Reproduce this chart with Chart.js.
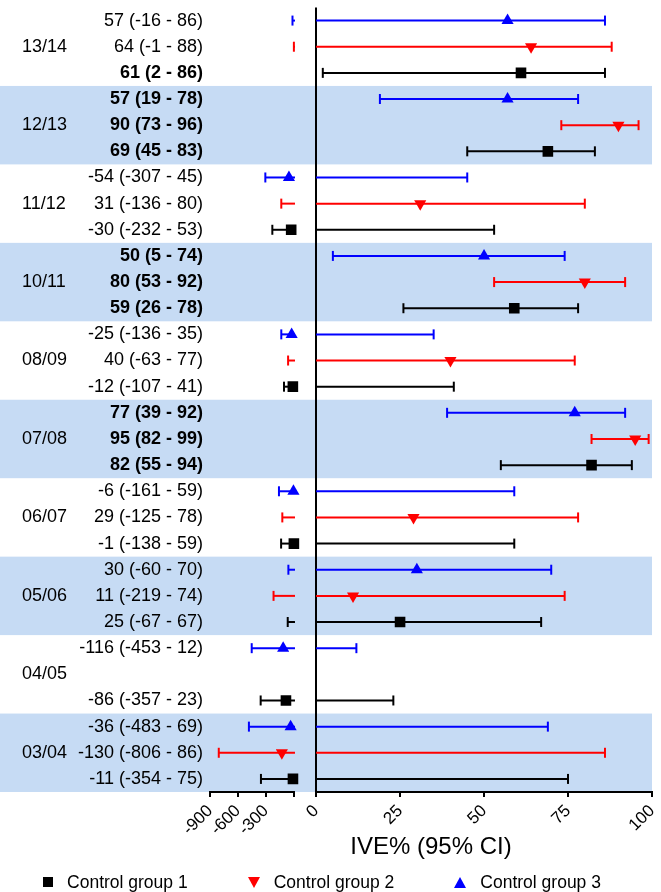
<!DOCTYPE html>
<html>
<head>
<meta charset="utf-8">
<title>IVE% by season</title>
<script src="https://cdn.jsdelivr.net/npm/chart.js@4.4.1/dist/chart.umd.min.js"></script>
<style>
  body { margin:0; background:#fff; font-family: Arial, "Liberation Sans", sans-serif; }
  .wrap { position:relative; width:661px; height:892px; }
  #legend { position:absolute; left:0; top:872px; width:644px; height:20px; display:flex; justify-content:center; align-items:center; gap:60px; font-size:17.5px; color:#000; }
  .lg-item { display:flex; align-items:center; white-space:nowrap; }
  .lg-mark { margin-right:14px; width:0; height:0; }
  .lg-rect { width:10px; height:10px; }
</style>
</head>
<body>
<div class="wrap">
  <canvas id="chartIVE" width="661" height="892"></canvas>
  <div id="legend"></div>
</div>
<script>
// seasons top -> bottom
const seasons = ['13/14', '12/13', '11/12', '10/11', '08/09', '07/08', '06/07', '05/06', '04/05', '03/04'];

// Control group 1 (black squares)
const g1Est  = [61, 69, -30, 59, -12, 82, -1, 25, -86, -11];
const g1Low  = [2, 45, -232, 26, -107, 55, -138, -67, -357, -354];
const g1High = [86, 83, 53, 78, 41, 94, 59, 67, 23, 75];

// Control group 2 (red triangles down)
const g2Est  = [64, 90, 31, 80, 40, 95, 29, 11, null, -130];
const g2Low  = [-1, 73, -136, 53, -63, 82, -125, -219, null, -806];
const g2High = [88, 96, 80, 92, 77, 99, 78, 74, null, 86];

// Control group 3 (blue triangles up)
const g3Est  = [57, 57, -54, 50, -25, 77, -6, 30, -116, -36];
const g3Low  = [-16, 19, -307, 5, -136, 39, -161, -60, -453, -483];
const g3High = [86, 78, 45, 74, 35, 92, 59, 70, 12, 69];

// broken x axis
const leftTicks  = [-900, -600, -300, 0];
const rightTicks = [0, 25, 50, 75, 100];

const FONT = 'Arial, "Liberation Sans", sans-serif';
Chart.defaults.font.family = FONT;
Chart.defaults.color = '#000';

// groups: row offset inside a season block (group 3 on top, group 1 at the bottom)
const groups = [
  { label: 'Control group 1', est: g1Est, low: g1Low, high: g1High, row: 2, color: '#000000', style: 'rect', rot: 0, r: 7.5 },
  { label: 'Control group 2', est: g2Est, low: g2Low, high: g2High, row: 1, color: '#ff0000', style: 'triangle', rot: 180, r: 7 },
  { label: 'Control group 3', est: g3Est, low: g3Low, high: g3High, row: 0, color: '#0000ff', style: 'triangle', rot: 0, r: 7 }
];

const nRows = seasons.length * 3;
const rowLabels = Array(nRows).fill('');
const rowLow = Array(nRows).fill(null);
groups.forEach(g => {
  g.rowEst = Array(nRows).fill(null);
  g.rowLow = Array(nRows).fill(null);
  g.rowHigh = Array(nRows).fill(null);
  seasons.forEach((s, i) => {
    if (g.est[i] === null) return;
    const r = i * 3 + g.row;
    g.rowEst[r] = g.est[i];
    g.rowLow[r] = g.low[i];
    g.rowHigh[r] = g.high[i];
    rowLow[r] = g.low[i];
    rowLabels[r] = `${g.est[i]} (${g.low[i]} - ${g.high[i]})`;
  });
});

// linear scale with a break between the negative part and 0..100
class BrokenScale extends Chart.LinearScale {
  determineDataLimits() {
    const b = this.options.breaks;
    this.min = b.left[0];
    this.max = b.right[1];
  }
  buildTicks() {
    return leftTicks.map(v => ({ value: v, part: 0 }))
      .concat(rightTicks.map(v => ({ value: v, part: 1 })));
  }
  partBounds(part) {
    const b = this.options.breaks, w = this.right - this.left;
    const lEnd = this.left + w * b.leftSize;
    return part === 0 ? [this.left, lEnd, b.left[0], b.left[1]]
                      : [lEnd + w * b.gapSize, this.right, b.right[0], b.right[1]];
  }
  pixelIn(part, v) {
    const [p0, p1, v0, v1] = this.partBounds(part);
    return p0 + (v - v0) / (v1 - v0) * (p1 - p0);
  }
  getPixelForValue(v) { return this.pixelIn(v < 0 ? 0 : 1, v); }
  getPixelForTick(i) { const t = this.ticks[i]; return this.pixelIn(t.part, t.value); }
  getValueForPixel(px) {
    const part = px < this.partBounds(1)[0] ? 0 : 1;
    const [p0, p1, v0, v1] = this.partBounds(part);
    return v0 + (px - p0) / (p1 - p0) * (v1 - v0);
  }
}
BrokenScale.id = 'broken';
BrokenScale.defaults = {};
Chart.register(BrokenScale);

// alternating season shading (behind everything, full width)
const bandsPlugin = {
  id: 'bands',
  beforeDraw(chart) {
    const { ctx, scales: { x, y } } = chart;
    const h = y.getPixelForValue(1) - y.getPixelForValue(0);
    ctx.save();
    ctx.fillStyle = '#c6dbf4';
    seasons.forEach((s, i) => {
      if (i % 2 === 0) return;
      const top = y.getPixelForValue(i * 3) - h / 2;
      ctx.fillRect(0, top, x.right, h * 3);
    });
    ctx.restore();
  }
};

// error bars, split over the axis break
const errorBarsPlugin = {
  id: 'errorBars',
  beforeDatasetsDraw(chart) {
    const { ctx, scales: { x, y } } = chart;
    const leftEnd = x.partBounds(0)[1];
    const cap = 5;
    ctx.save();
    ctx.lineWidth = 2;
    chart.data.datasets.forEach(ds => {
      ctx.strokeStyle = ds.borderColor;
      ds.data.forEach((v, r) => {
        if (v === null) return;
        const lo = ds.low[r], hi = ds.high[r];
        const py = y.getPixelForValue(r);
        const seg = (a, b) => { ctx.beginPath(); ctx.moveTo(a, py); ctx.lineTo(b, py); ctx.stroke(); };
        const tick = px => { ctx.beginPath(); ctx.moveTo(px, py - cap); ctx.lineTo(px, py + cap); ctx.stroke(); };
        if (lo < 0) {
          const p = x.getPixelForValue(lo);
          seg(p, leftEnd + 1);
          tick(p);
        }
        const start = x.getPixelForValue(Math.max(lo, 0));
        const end = x.getPixelForValue(hi);
        seg(start, end);
        if (lo >= 0) tick(start);
        tick(end);
      });
    });
    ctx.restore();
  }
};

// two-part x axis line + season names
const axisPlugin = {
  id: 'axisParts',
  afterDraw(chart) {
    const { ctx, scales: { x, y } } = chart;
    ctx.save();
    ctx.strokeStyle = '#000';
    ctx.lineWidth = 2;
    [0, 1].forEach(part => {
      const [p0, p1] = x.partBounds(part);
      ctx.beginPath();
      ctx.moveTo(p0 - 1, x.top);
      ctx.lineTo(p1 + 1, x.top);
      ctx.stroke();
    });
    ctx.fillStyle = '#000';
    ctx.font = '18px ' + FONT;
    ctx.textAlign = 'left';
    ctx.textBaseline = 'middle';
    seasons.forEach((s, i) => ctx.fillText(s, 22, y.getPixelForValue(i * 3 + 1)));
    ctx.restore();
  }
};

const chart = new Chart(document.getElementById('chartIVE'), {
  type: 'line',
  data: {
    labels: rowLabels,
    datasets: groups.map(g => ({
      label: g.label,
      data: g.rowEst,
      low: g.rowLow,
      high: g.rowHigh,
      showLine: false,
      pointStyle: g.style,
      pointRotation: g.rot,
      pointRadius: g.r,
      pointHoverRadius: g.r,
      pointBorderWidth: 0,
      backgroundColor: g.color,
      borderColor: g.color
    }))
  },
  options: {
    indexAxis: 'y',
    responsive: false,
    animation: false,
    devicePixelRatio: 1,
    layout: { padding: { top: 5, right: 9, bottom: 30, left: 0 } },
    plugins: { legend: { display: false } },
    scales: {
      x: {
        type: 'broken',
        position: 'bottom',
        breaks: { left: [-900, 0], right: [0, 100], leftSize: 0.19, gapSize: 0.05 },
        border: { display: false },
        grid: {
          drawOnChartArea: true,
          color: c => (c.tick && c.tick.part === 1 && c.tick.value === 0) ? '#000' : 'rgba(0,0,0,0)',
          tickColor: '#000',
          lineWidth: 2,
          tickLength: 5
        },
        ticks: {
          autoSkip: false,
          minRotation: 45,
          maxRotation: 45,
          padding: 4,
          font: { size: 17 },
          callback: (v, i, ticks) => (ticks[i].part === 0 && v === 0) ? '' : v
        },
        title: { display: true, text: 'IVE% (95% CI)', font: { size: 24 }, padding: { top: 0, bottom: 0 } },
        afterFit: s => { s.height = 70; s.paddingLeft = 0; s.paddingRight = 0; }
      },
      y: {
        type: 'category',
        offset: true,
        border: { display: false },
        grid: { display: false, drawTicks: false },
        ticks: {
          autoSkip: false,
          padding: 7,
          font: c => ({ size: 18, weight: rowLow[c.index] > 0 ? 'bold' : 'normal' })
        },
        afterFit: s => { s.width = 210; s.paddingTop = 0; s.paddingBottom = 0; }
      }
    }
  },
  plugins: [bandsPlugin, errorBarsPlugin, axisPlugin]
});

// html legend from the datasets
const legendEl = document.getElementById('legend');
chart.data.datasets.forEach(ds => {
  const item = document.createElement('div');
  item.className = 'lg-item';
  const mark = document.createElement('span');
  mark.className = 'lg-mark';
  if (ds.pointStyle === 'rect') {
    mark.classList.add('lg-rect');
    mark.style.background = ds.backgroundColor;
  } else {
    mark.style.borderLeft = '6px solid transparent';
    mark.style.borderRight = '6px solid transparent';
    const side = ds.pointRotation === 180 ? 'borderTop' : 'borderBottom';
    mark.style[side] = '11px solid ' + ds.backgroundColor;
  }
  const txt = document.createElement('span');
  txt.textContent = ds.label;
  item.appendChild(mark);
  item.appendChild(txt);
  legendEl.appendChild(item);
});
</script>
</body>
</html>
